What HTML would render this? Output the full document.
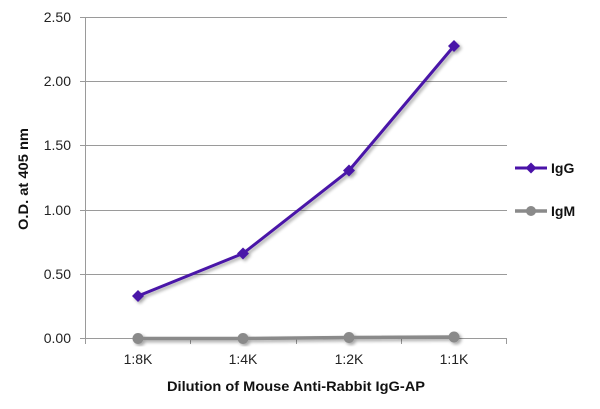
<!DOCTYPE html>
<html>
<head>
<meta charset="utf-8">
<style>
html,body{margin:0;padding:0;background:#fff;}
svg{display:block;}
text{font-family:"Liberation Sans",Arial,sans-serif;}
</style>
</head>
<body>
<svg width="600" height="409" viewBox="0 0 600 409" xmlns="http://www.w3.org/2000/svg">
<defs>
<filter id="sh" x="-20%" y="-20%" width="140%" height="140%">
<feGaussianBlur in="SourceAlpha" stdDeviation="1.5"/>
<feOffset dx="2" dy="2" result="b"/>
<feComponentTransfer><feFuncA type="linear" slope="0.35"/></feComponentTransfer>
<feMerge><feMergeNode/><feMergeNode in="SourceGraphic"/></feMerge>
</filter>
</defs>
<!-- gridlines -->
<g stroke="#9a9a9a" stroke-width="1">
<line x1="80" y1="17.5" x2="507" y2="17.5"/>
<line x1="80" y1="81.5" x2="507" y2="81.5"/>
<line x1="80" y1="145.5" x2="507" y2="145.5"/>
<line x1="80" y1="210.5" x2="507" y2="210.5"/>
<line x1="80" y1="274.5" x2="507" y2="274.5"/>
<line x1="80" y1="338.5" x2="507" y2="338.5"/>
<line x1="85.5" y1="17" x2="85.5" y2="344"/>
<line x1="190.5" y1="338" x2="190.5" y2="344"/>
<line x1="296.5" y1="338" x2="296.5" y2="344"/>
<line x1="401.5" y1="338" x2="401.5" y2="344"/>
<line x1="506.5" y1="338" x2="506.5" y2="344"/>
</g>
<!-- y labels -->
<g font-size="14" fill="#222" text-anchor="end">
<text x="71" y="22">2.50</text>
<text x="71" y="86">2.00</text>
<text x="71" y="150">1.50</text>
<text x="71" y="215">1.00</text>
<text x="71" y="279">0.50</text>
<text x="71" y="343">0.00</text>
</g>
<!-- x labels -->
<g font-size="14" fill="#222" text-anchor="middle">
<text x="138" y="364">1:8K</text>
<text x="243" y="364">1:4K</text>
<text x="349" y="364">1:2K</text>
<text x="454" y="364">1:1K</text>
</g>
<!-- axis titles -->
<text x="296" y="391" font-size="14" font-weight="bold" fill="#111" text-anchor="middle" textLength="258" lengthAdjust="spacingAndGlyphs">Dilution of Mouse Anti-Rabbit IgG-AP</text>
<text transform="translate(28,179) rotate(-90)" font-size="14" font-weight="bold" fill="#111" text-anchor="middle" textLength="102" lengthAdjust="spacingAndGlyphs">O.D. at 405 nm</text>
<!-- IgM series -->
<g filter="url(#sh)">
<polyline points="138,338.5 243,338.5 349,337.5 454,337" fill="none" stroke="#8a8a8a" stroke-width="3.5"/>
<circle cx="138" cy="338.5" r="5.5" fill="#8a8a8a"/>
<circle cx="243" cy="338.5" r="5.5" fill="#8a8a8a"/>
<circle cx="349" cy="337.5" r="5.5" fill="#8a8a8a"/>
<circle cx="454" cy="337" r="5.5" fill="#8a8a8a"/>
</g>
<!-- IgG series -->
<g filter="url(#sh)">
<polyline points="138,296 243,253.5 349,170.5 454,46" fill="none" stroke="#4a12a8" stroke-width="3"/>
<polygon points="138,290 144,296 138,302 132,296" fill="#4a12a8"/>
<polygon points="243,247.5 249,253.5 243,259.5 237,253.5" fill="#4a12a8"/>
<polygon points="349,164.5 355,170.5 349,176.5 343,170.5" fill="#4a12a8"/>
<polygon points="454,40 460,46 454,52 448,46" fill="#4a12a8"/>
</g>
<!-- legend -->
<line x1="515" y1="168" x2="547" y2="168" stroke="#4a12a8" stroke-width="3"/>
<polygon points="531,162.5 536.5,168 531,173.5 525.5,168" fill="#4a12a8"/>
<text x="551" y="173" font-size="14" font-weight="bold" fill="#111">IgG</text>
<line x1="515" y1="211" x2="547" y2="211" stroke="#8a8a8a" stroke-width="3.5"/>
<circle cx="531" cy="211" r="5" fill="#8a8a8a"/>
<text x="551" y="216" font-size="14" font-weight="bold" fill="#111">IgM</text>
</svg>
</body>
</html>
